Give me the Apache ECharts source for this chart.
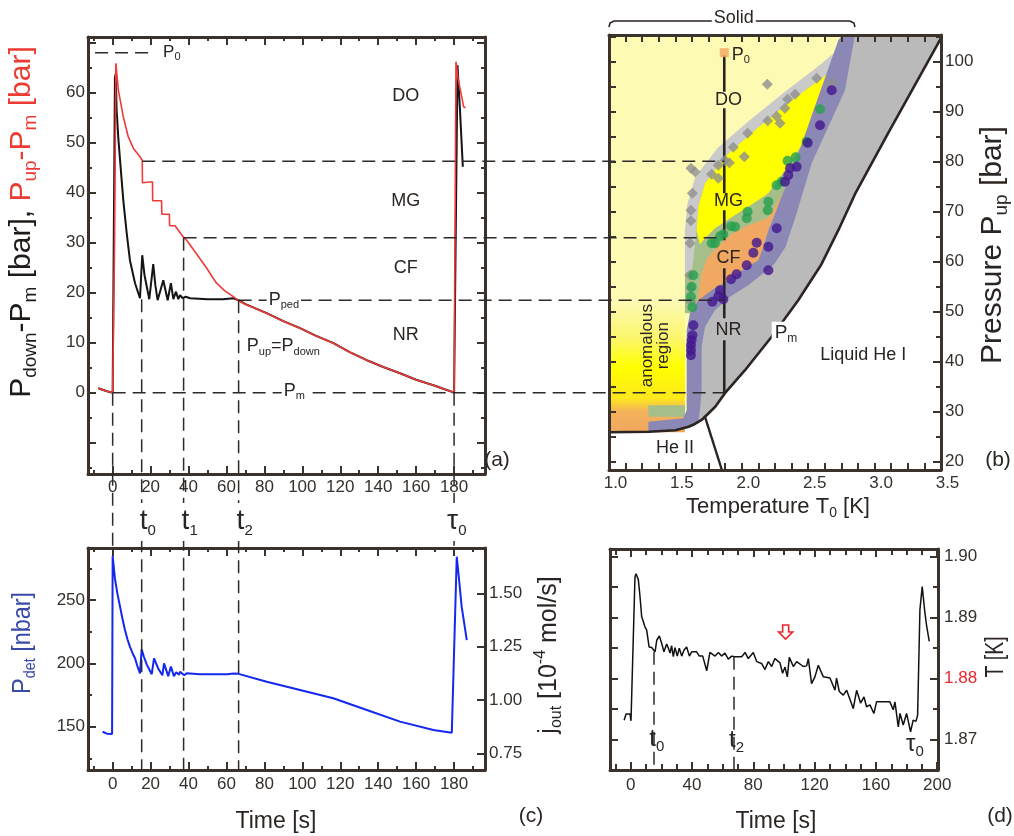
<!DOCTYPE html>
<html><head><meta charset="utf-8">
<script src="https://cdn.jsdelivr.net/npm/echarts@6/dist/echarts.min.js"></script>
<style>html,body{margin:0;padding:0;background:#fff}#c{width:1014px;height:836px}</style>
</head><body><div id="c"></div><script>
// ---------------- DATA ----------------
// Panel (a): pressures vs time [s, bar]
const redCurve = [[-7.6,0.9],[-3,0.3],[0,0.05],[0.3,0],[1.0,30],[1.7,65.9],[3.0,60.5],[5.6,55.2],[8.2,51.2],[10.9,48.9],[14.4,47.2],[15.6,46.5],[15.7,42.0],[21.0,42.2],[21.1,38.4],[25.8,38.4],[25.9,35.7],[29.9,35.7],[30.0,33.4],[32.9,33.4],[37.3,31.1],[39,30.5],[44,27.9],[49.6,24.9],[53,22.9],[54.8,21.9],[59,20.4],[63.6,19.2],[66.3,18.4],[70,17.7],[81.2,15.9],[90,14.3],[98.8,12.9],[107,11.4],[116.4,9.9],[125,8.1],[134,6.5],[143,5.1],[151.5,3.9],[160,2.6],[169.1,1.5],[175,0.7],[178.8,0.2],[180,0],[181,66.2],[182,63],[184,59.2],[185,57.2],[186,57.0]];
const blackCurve = [[-7.6,0.9],[-3,0.3],[0,0],[0.5,0],[1.2,62.9],[1.6,63.8],[2.1,56.5],[3.0,50.8],[3.9,46.5],[5.6,38.5],[7.4,31.9],[9.1,26.5],[11.8,21.9],[14.4,18.9],[15.6,27.5],[16.8,23.5],[19.3,18.7],[21.4,25.7],[22.5,21.5],[23.7,18.5],[26.7,22.5],[29,18.5],[30.7,21.9],[32,18.7],[33.4,20.2],[34.6,18.7],[35.5,19.5],[37,18.9],[38.5,19.2],[40.8,18.9],[50,18.7],[58.3,18.7],[63.6,18.9],[66.3,18.5],[70,17.7],[81.2,15.9],[90,14.3],[98.8,12.9],[107,11.4],[116.4,9.9],[125,8.1],[134,6.5],[143,5.1],[151.5,3.9],[160,2.6],[169.1,1.5],[175,0.7],[178.8,0.2],[180,0],[180.4,0],[181.8,65.5],[183.2,55.9],[184.6,45.2]];
const levelsA = [46.3, 31.0, 18.5, 0];
const levelStartT = [15.6, 37.4, 66.4, 0];
const markT = [0, 15.3, 37.4, 66.4, 180];
const markStartP = [0, 18.7, 31.0, 18.5, 0];
const markToCBottom = [false, true, true, true, false];
const markNames = [null, ['t','0'], ['t','1'], ['t','2'], ['τ','0']];
const regionNamesA = ['DO','MG','CF','NR'];
const regionPA = [59.3, 38.2, 24.9, 11.5];

// Panel (b): phase diagram [K, bar]
const meltT = [1.0,1.3,1.5,1.6,1.65,1.7,1.8,1.873,2.024,2.225,2.425,2.6,2.727,2.852,3.1,3.5];
const meltP = [25.9,26.0,26.3,27.0,27.6,28.4,31.0,33.7,38.3,45.0,52.3,59.5,66.3,73.5,85.6,104.7];
const lambdaLine = [[1.72,29.2],[1.85,18.34]];
const purpleBand = [[1.296,26.0],[1.296,28.0],[1.56,28.7],[1.585,30.3],[1.585,46.3],[1.61,49.7],[1.673,52.3],[1.773,54.3],[1.899,56.3],[2.024,58.7],[2.125,60.3],[2.162,63.0],[2.2,66.3],[2.3,73.0],[2.4,79.7],[2.576,93.0],[2.727,104.3],[2.757,105.34],[2.852,105.34],[2.777,94.3],[2.526,79.7],[2.413,69.7],[2.33,63.0],[2.25,59.7],[2.175,58.0],[2.049,55.3],[1.911,53.0],[1.798,50.3],[1.723,47.0],[1.698,43.0],[1.698,34.3],[1.685,30.3],[1.673,28.1],[1.6,27.0],[1.5,26.3],[1.3,26.0]];
const grayRegion = [[2.8,105.34],[3.5,105.34],[3.5,104.7],[3.1,85.6],[2.852,73.5],[2.727,66.3],[2.6,59.5],[2.425,52.3],[2.225,45],[2.024,38.3],[1.873,33.7],[1.8,31],[1.7,28.4],[1.65,27.6],[1.65,45],[1.75,50],[2.0,55],[2.2,59],[2.35,68],[2.6,88],[2.8,105.34]];
const doBand = [[2.73,102.5],[2.60,99.6],[2.33,94.1],[2.05,88.1],[1.82,82.8],[1.65,77.0],[1.59,71.5],[1.572,66.3],[1.572,50.3],[1.7,50.3],[2.3,72],[2.6,93],[2.72,100.5]];
const greenBand = [[2.70,100.5],[2.576,93.0],[2.4,79.7],[2.3,73.0],[2.2,66.3],[2.162,63.0],[2.125,60.3],[2.024,58.7],[1.899,56.3],[1.773,54.3],[1.673,52.3],[1.61,49.7],[1.572,49.7],[1.572,57.7],[1.627,58.5],[1.66,66.3],[1.673,71],[1.723,75.7],[1.873,81],[2.099,86.3],[2.376,92.3],[2.652,97.7]];
const mgRegion = [[2.652,97.7],[2.376,92.3],[2.099,86.3],[1.873,81.0],[1.723,75.7],[1.673,71.0],[1.66,66.3],[1.685,63.5],[1.723,64.7],[1.798,66.7],[1.911,68.7],[2.049,71.0],[2.2,73.7],[2.325,78.3],[2.476,84.3],[2.576,91.0]];
const cfRegion = [[2.338,75.0],[2.2,68.8],[2.04,67.2],[1.92,65.5],[1.80,62.5],[1.735,60.5],[1.698,57.7],[1.678,54.3],[1.66,51.0],[1.773,53.8],[1.899,55.8],[2.024,58.2],[2.125,59.8],[2.162,63.0],[2.2,66.3],[2.3,73.0]];
const anomalousRect = [[1.0,25.9],[1.572,25.9],[1.572,52],[1.0,52]];
const greenRect = [[1.296,29.0],[1.572,29.0],[1.572,31.3],[1.296,31.3]];
const grayDiamonds = [[2.192,95.5],[2.564,96.7],[2.677,95.7],[2.401,93.5],[2.345,92.5],[2.325,90.7],[2.262,89.1],[2.288,87.7],[2.195,88.2],[2.044,85.7],[1.936,82.9],[2.019,81.0],[1.873,80.3],[1.906,79.8],[1.823,79.3],[1.617,78.7],[1.648,78.0],[1.773,77.5],[1.823,76.7],[1.628,73.7],[1.617,70.3],[1.617,68.2],[1.610,63.7],[1.610,57.3],[1.617,54.7],[1.617,52.0]];
const greenDots = [[2.589,90.5],[2.488,84.0],[2.406,80.9],[2.345,80.2],[2.300,76.0],[2.262,75.3],[2.200,72.0],[2.195,70.3],[2.044,70.0],[2.037,68.7],[1.949,67.0],[1.919,67.1],[1.836,65.1],[1.861,65.5],[1.798,63.7],[1.773,63.7],[1.635,57.3],[1.622,55.0],[1.617,53.0],[1.628,50.9]];
const purpleDots = [[2.677,94.3],[2.589,87.3],[2.496,83.8],[2.413,79.0],[2.363,78.7],[2.350,77.3],[2.325,76.0],[2.263,66.7],[2.112,63.8],[2.200,63.0],[2.087,61.8],[2.037,59.3],[2.200,58.3],[1.961,57.5],[1.919,56.5],[1.836,54.3],[1.823,53.1],[1.861,52.5],[1.778,52.0],[1.635,47.3],[1.628,45.3],[1.622,44.3],[1.617,43.3],[1.617,42.3],[1.617,41.3]];
const T0 = 1.868, P0b = 101.8;
const t0Segments = [[101.3,94],[90.7,73.7],[70.3,64.3],[58.7,48.7],[44.3,33.7]];
const regionNamesB = ['DO','MG','CF','NR'];
const regionPB = [92.3, 72.0, 60.7, 46.3];

// Panel (c): detector pressure [s, nbar]
const detCurve = [[-5.3,146],[-3,144.5],[-0.3,144.2],[0,284.7],[1.2,267],[2.5,255],[3.9,244.7],[5.2,235],[6.5,226.3],[7.8,219],[9.1,213.2],[10.5,208],[11.8,204],[13,198],[14.4,192.1],[15.3,211.1],[16.5,205],[18,199],[20.6,191.4],[21.8,204],[24,196],[26.2,190.6],[27.1,200],[29.3,189.8],[30.7,197.4],[32.3,189.8],[33.5,193],[35,191],[35.5,193.4],[37.8,190.6],[39,192.1],[46,191.4],[60.3,191.4],[64,191.9],[66.4,191.7],[81.2,185.5],[98.8,179],[116.3,172.4],[134,163.2],[151.5,154],[169.1,147.4],[178.8,145.2],[179.6,145],[181.4,284.2],[182.3,271],[184,244.7],[186.7,218.4]];

// Panel (d): temperature [s, K]
const tempCurve = [[-4.3,1.8732],[-3.0,1.8742],[-0.4,1.8742],[0.2,1.8731],[2.8,1.8967],[3.5,1.8972],[5.0,1.8962],[6.1,1.8934],[6.5,1.8932],[7.2,1.8901],[7.8,1.8897],[8.7,1.8899],[9.3,1.8885],[10.4,1.8880],[12.0,1.8852],[13.7,1.8851],[14.8,1.8851],[15.9,1.8844],[17.0,1.8863],[18.7,1.8870],[20.2,1.8858],[21.7,1.8844],[23.5,1.8857],[24.6,1.8850],[25.7,1.8842],[26.7,1.8854],[27.8,1.8836],[28.9,1.8851],[30.4,1.8837],[31.7,1.8850],[33.3,1.8837],[34.8,1.8847],[36.5,1.8852],[38.3,1.8837],[39.8,1.8844],[43.0,1.8844],[44.8,1.8837],[47.0,1.8837],[49.6,1.8813],[51.7,1.8843],[55.0,1.8837],[57.2,1.8843],[59.3,1.8837],[61.5,1.8842],[63.7,1.8832],[65.9,1.8837],[68.0,1.8836],[72.4,1.8836],[74.6,1.8843],[76.7,1.8833],[80.0,1.8843],[82.2,1.8828],[83.3,1.8825],[85.4,1.8825],[87.6,1.8815],[89.8,1.8828],[92.0,1.8820],[94.1,1.8833],[97.4,1.8826],[99.1,1.8809],[100.7,1.8819],[102.2,1.8803],[103.5,1.8835],[106.1,1.8820],[108.3,1.8828],[112.6,1.8820],[114.8,1.8821],[115.9,1.8833],[118.0,1.8792],[120.2,1.8803],[122.4,1.8822],[125.7,1.8803],[130.0,1.8801],[133.3,1.8781],[134.3,1.8801],[136.1,1.8779],[138.7,1.8773],[140.9,1.8781],[145.2,1.8751],[147.4,1.8781],[150.0,1.8760],[152.2,1.8770],[153.9,1.8754],[156.1,1.8757],[158.7,1.8743],[160.4,1.8762],[164.8,1.8762],[169.1,1.8762],[171.3,1.8749],[172.4,1.8762],[174.6,1.8721],[175.7,1.8743],[177.8,1.8724],[180.0,1.8743],[182.6,1.8713],[184.3,1.8732],[186.1,1.8730],[187.2,1.8740],[188.7,1.8913],[190.2,1.8951],[192.0,1.8907],[193.0,1.8888],[194.8,1.8861]];
const dMarkT = [15.2, 67.4];
const dMarkStartT = [1.8844, 1.8836];
const arrowT = 101.1, arrowTop = 1.8888, arrowTip = 1.8865;

// ---------------- HELPERS ----------------
const FONT = "'Liberation Sans', Arial, sans-serif";
const AX = '#3b322b', LBL = '#35302b';
function range(a, b, s) { const r = []; for (let i = 0; a + i * s <= b + 1e-9; i++) r.push(+(a + i * s).toFixed(6)); return r; }
function minus(arr, rem) { return arr.filter(v => !rem.some(r => Math.abs(r - v) < 1e-9)); }
const xAxes = [], yAxes = [];
function side(dim, grid, pos, min, max, major, minor, labels, lblOpts, majLen, minLen) {
  const list = dim === 'x' ? xAxes : yAxes;
  list.push({
    type: 'value', gridIndex: grid, position: pos, min, max, z: 10,
    axisLine: { show: true, onZero: false, lineStyle: { color: AX, width: 3 } },
    axisTick: { show: major.length > 0, inside: true, length: majLen || 8, customValues: major, lineStyle: { color: AX, width: 2 } },
    axisLabel: labels ? Object.assign({ show: true, customValues: labels, color: LBL, fontSize: 17, fontFamily: FONT }, lblOpts || {}) : { show: false },
    splitLine: { show: false }
  });
  const main = list.length - 1;
  if (minor && minor.length) list.push({
    type: 'value', gridIndex: grid, position: pos, min, max, z: 10,
    axisLine: { show: false, onZero: false },
    axisTick: { show: true, inside: true, length: minLen || 4, customValues: minor, lineStyle: { color: AX, width: 2 } },
    axisLabel: { show: false }, splitLine: { show: false }
  });
  return main;
}
const grids = [
  { left: 88, top: 37, width: 397, height: 437 },
  { left: 609, top: 35, width: 332, height: 435 },
  { left: 88, top: 548, width: 397, height: 222 },
  { left: 610, top: 549, width: 328, height: 221 }
];
// panel a axes
const aXr = [-13, 196.3], aYr = [-16.26, 71.14];
const tMaj = range(0, 180, 20), tMin = range(-10, 190, 20);
const aX = side('x', 0, 'bottom', aXr[0], aXr[1], tMaj, tMin, tMaj, { margin: 5 });
side('x', 0, 'top', aXr[0], aXr[1], tMaj, tMin);
const aY = side('y', 0, 'left', aYr[0], aYr[1], range(-10, 70, 10), range(-15, 65, 10), range(0, 60, 10), { margin: 3 });
side('y', 0, 'right', aYr[0], aYr[1], range(-10, 70, 10), range(-15, 65, 10));
// panel b axes
const bXr = [1.0, 3.5], bYr = [18.34, 105.34];
const bMaj = range(1, 3.5, 0.5), bMin = minus(range(1, 3.5, 0.125), bMaj);
const bX = side('x', 1, 'bottom', bXr[0], bXr[1], bMaj, bMin, bMaj, { margin: 5, padding: [0, 0, 0, 13], formatter: v => v.toFixed(1) }, 7, 7);
side('x', 1, 'top', bXr[0], bXr[1], bMaj, bMin, null, null, 7, 7);
side('y', 1, 'left', bYr[0], bYr[1], range(20, 105, 5), [], null, null, 7);
const bY = side('y', 1, 'right', bYr[0], bYr[1], range(20, 100, 10), range(25, 105, 10), range(20, 100, 10), { margin: 4 }, 8, 5);
// panel c axes
const cXr = [-13, 196.3], cYr = [115.8, 291.05], cRr = [0.672, 1.7125];
const cX = side('x', 2, 'bottom', cXr[0], cXr[1], tMaj, tMin, tMaj, { margin: 6 });
side('x', 2, 'top', cXr[0], cXr[1], tMaj, tMin);
const cY = side('y', 2, 'left', cYr[0], cYr[1], [150, 200, 250], [125, 175, 225, 275], [150, 200, 250], { margin: 3 });
const cR = side('y', 2, 'right', cRr[0], cRr[1], [0.75, 1.0, 1.25, 1.5], [], [0.75, 1.0, 1.25, 1.5], { margin: 4, formatter: v => v.toFixed(2) });
// panel d axes
const dXr = [-13.5, 200.5], dYr = [1.86503, 1.90126];
const dMaj = range(0, 200, 40), dMin = minus(range(-10, 200, 10), dMaj);
const dX = side('x', 3, 'bottom', dXr[0], dXr[1], dMaj, dMin, dMaj, { margin: 7 }, 8, 6);
side('x', 3, 'top', dXr[0], dXr[1], dMaj, dMin, null, null, 8, 6);
side('y', 3, 'left', dYr[0], dYr[1], range(1.865, 1.9, 0.005), [], null, null, 8);
const dY = side('y', 3, 'right', dYr[0], dYr[1], [1.87, 1.88, 1.89, 1.90], [1.865, 1.875, 1.885, 1.895], [1.87, 1.88, 1.89, 1.90],
  { margin: 6, formatter: v => v.toFixed(2), color: v => (Math.abs(v - 1.88) < 1e-6 ? '#e8282d' : LBL) }, 8, 5);

function poly(points, fill, xi, yi) {
  return {
    type: 'custom', xAxisIndex: xi, yAxisIndex: yi, silent: true, clip: false,
    data: [[points[0][0], points[0][1]]], encode: { x: 0, y: 1 },
    renderItem: (params, api) => ({ type: 'polygon', shape: { points: points.map(p => api.coord(p)) }, style: { fill: fill } })
  };
}
function lineS(data, color, width, xi, yi, z) {
  return { type: 'line', xAxisIndex: xi, yAxisIndex: yi, data, showSymbol: false, symbol: 'none', silent: true, animation: false,
    lineStyle: { color, width }, z: z || 3 };
}
const anomGrad = new echarts.graphic.LinearGradient(0, 0, 0, 1, [
  { offset: 0, color: '#fdfab4' }, { offset: 0.28, color: '#fcf66c' }, { offset: 0.5, color: '#ffff00' },
  { offset: 0.74, color: '#fde81c' }, { offset: 0.84, color: '#f3b25a' }, { offset: 1, color: '#f0a860' }]);
const lightYellow = [[1.0, 105.34], [3.5, 105.34]].concat(meltT.map((t, i) => [t, meltP[i]]).reverse());

const series = [
  lineS(blackCurve, '#141414', 2, aX, aY, 3),
  lineS(redCurve, '#f03a3a', 1.6, aX, aY, 4),
  poly(lightYellow, '#fdfab4', bX, bY),
  poly(grayRegion, '#bababa', bX, bY),
  poly(anomalousRect, anomGrad, bX, bY),
  poly(doBand, '#cacaca', bX, bY),
  poly(greenBand, '#a6bf8a', bX, bY),
  poly(mgRegion, '#ffff00', bX, bY),
  poly(cfRegion, '#f0a862', bX, bY),
  poly(greenRect, '#a6bf8a', bX, bY),
  poly(purpleBand, '#8c88b6', bX, bY),
  lineS(meltT.map((t, i) => [t, meltP[i]]), '#2b2420', 2.6, bX, bY, 5),
  lineS(lambdaLine, '#2b2420', 2.4, bX, bY, 5),
  { type: 'scatter', xAxisIndex: bX, yAxisIndex: bY, data: grayDiamonds, symbol: 'diamond', symbolSize: [11, 11], itemStyle: { color: '#8e8e8e' }, z: 6, silent: true },
  { type: 'scatter', xAxisIndex: bX, yAxisIndex: bY, data: greenDots, symbol: 'circle', symbolSize: 10, itemStyle: { color: '#27a04f' }, z: 7, silent: true },
  { type: 'scatter', xAxisIndex: bX, yAxisIndex: bY, data: purpleDots, symbol: 'circle', symbolSize: 10, itemStyle: { color: '#42168f' }, z: 8, silent: true },
  { type: 'scatter', xAxisIndex: bX, yAxisIndex: bY, data: [[T0, P0b]], symbol: 'rect', symbolSize: 9, itemStyle: { color: '#f0a862' }, z: 9, silent: true },
  lineS(detCurve, '#1428f0', 2, cX, cY, 3),
  lineS(tempCurve, '#111', 1.5, dX, dY, 3)
];
t0Segments.forEach(s => series.push(lineS([[T0, s[0]], [T0, s[1]]], '#2b2420', 2.6, bX, bY, 6)));

const chart = echarts.init(document.getElementById('c'), null, { renderer: 'canvas', width: 1014, height: 836 });
chart.setOption({
  animation: false, backgroundColor: '#fff',
  textStyle: { fontFamily: FONT },
  grid: grids, xAxis: xAxes, yAxis: yAxes, series
});

// ---------------- ANNOTATIONS ----------------
const A = { x: aX, y: aY }, B = { x: bX, y: bY }, C = { x: cX, y: cY }, D = { x: dX, y: dY };
function P(g, x, y) { return chart.convertToPixel({ xAxisIndex: g.x, yAxisIndex: g.y }, [x, y]); }
const Gs = [];
const dash = { stroke: '#2e2a27', lineWidth: 1.5, lineDash: [13, 7] };
function gline(x1, y1, x2, y2, style) { Gs.push({ type: 'line', silent: true, z: 50, shape: { x1, y1, x2, y2 }, style: Object.assign({}, style) }); }
function rich(parts, F, color, subR) {
  subR = subR || 0.62;
  let text = ''; const r = {};
  const Dd = Math.round(F * 0.12);
  parts.forEach((p, i) => {
    let s = p, k = 'n', c = color;
    if (typeof p === 'object') { s = p.t; k = p.k || 'n'; c = p.c || color; }
    const key = 'p' + i, fs = Math.round(F * subR);
    if (k === 'n') r[key] = { fontSize: F, fontFamily: FONT, fill: c, verticalAlign: 'bottom', lineHeight: Math.round(F * 1.15), padding: [0, 0, Dd, 0] };
    else if (k === 's') r[key] = { fontSize: fs, fontFamily: FONT, fill: c, verticalAlign: 'bottom', lineHeight: Math.round(fs * 1.15), padding: [0, 0, 0, 0] };
    else r[key] = { fontSize: fs, fontFamily: FONT, fill: c, verticalAlign: 'bottom', lineHeight: Math.round(fs * 1.15), padding: [0, 0, Dd + Math.round(F * 0.5), 0] };
    text += '{' + key + '|' + s + '}';
  });
  return { text, rich: r };
}
function gtext(x, y, parts, F, color, o) {
  o = o || {};
  const rr = rich(parts, F, color, o.subR);
  const align = o.align || 'center';
  const st = { text: rr.text, rich: rr.rich, fill: color, font: F + 'px ' + FONT, align, textAlign: align, verticalAlign: 'middle', textVerticalAlign: 'middle' };
  if (o.bg) { st.backgroundColor = o.bg; st.padding = o.pad || [1, 2]; }
  Gs.push({ type: 'text', x, y, rotation: o.rot || 0, scaleX: o.sx || 1, scaleY: 1, silent: true, z: o.z || 60, style: st });
}
const sub = t => ({ t, k: 's' }), sup = t => ({ t, k: 'u' });

// horizontal connectors a -> b
const xT0 = P(B, T0, 50)[0];
levelsA.forEach((lv, i) => { const p = P(A, levelStartT[i], lv); gline(p[0], p[1], xT0, p[1], dash); });
// P0 dashed line in a
{ const p1 = P(A, -9.3, 68), p2 = P(A, 19.7, 68); gline(p1[0], p1[1], p2[0], p2[1], dash); gtext(P(A, 26.6, 68)[0], p1[1], ['P', sub('0')], 17, '#2a2522', { align: 'left' }); }
// vertical connectors a -> c
const aBottom = P(A, 0, aYr[0])[1];
markT.forEach((t, i) => {
  const p = P(A, t, markStartP[i]);
  const yEnd = markToCBottom[i] ? P(C, t, cYr[0])[1] : P(C, t, cYr[1])[1];
  gline(p[0], p[1], p[0], yEnd, dash);
  if (markNames[i]) {
    const off = markNames[i][0] === 'τ' ? -8 : -3;
    gtext(p[0] + off, aBottom + 48, [markNames[i][0], sub(markNames[i][1])], 28, '#2a2522', { align: 'left', bg: '#fff', pad: [3, 1], subR: 0.55 });
  }
});
// region labels a
regionNamesA.forEach((n, i) => { const p = P(A, 154.5, regionPA[i]); gtext(p[0], p[1], [n], 18, '#2a2522'); });
{ const p = P(A, 81.2, 18.5); gtext(p[0], p[1], ['P', sub('ped')], 18, '#2a2522', { align: 'left', bg: '#fff' }); }
{ const p = P(A, 70.7, 9.2); gtext(p[0], p[1], ['P', sub('up'), '=P', sub('down')], 18, '#2a2522', { align: 'left' }); }
{ const p = P(A, 89.1, 0.3); gtext(p[0], p[1], ['P', sub('m')], 18, '#2a2522', { align: 'left', bg: '#fff' }); }
// panel b labels
regionNamesB.forEach((n, i) => { const p = P(B, 1.9, regionPB[i]); gtext(p[0], p[1], [n], 18, '#2a2522'); });
{ const p = P(B, 1.925, 101.3); gtext(p[0], p[1], ['P', sub('0')], 18, '#2a2522', { align: 'left' }); }
{ const p = P(B, 2.225, 45.6); gtext(p[0], p[1], ['P', sub('m')], 19, '#2a2522', { align: 'left', bg: '#fff', pad: [1, 3] }); }
{ const p = P(B, 2.915, 41.3); gtext(p[0], p[1], ['Liquid He I'], 18, '#2a2522'); }
{ const p = P(B, 1.497, 22.7); gtext(p[0], p[1], ['He II'], 18, '#2a2522'); }
{ const p = P(B, 1.293, 43.2); gtext(p[0], p[1], ['anomalous'], 17, '#2a2522', { rot: Math.PI / 2 }); }
{ const p = P(B, 1.41, 43.2); gtext(p[0], p[1], ['region'], 17, '#2a2522', { rot: Math.PI / 2 }); }
// Solid bracket
{ const x1 = P(B, 1.0, 100)[0], x2 = P(B, 2.852, 100)[0], xm = P(B, 1.94, 100)[0];
  Gs.push({ type: 'polyline', silent: true, z: 50, shape: { points: [[x1, 27], [x1 + 1, 23], [x1 + 5, 21], [x2 - 5, 21], [x2 - 1, 23], [x2, 27]] }, style: { stroke: '#2b2420', lineWidth: 1.6, fill: null } });
  gtext(xm, 19, ['Solid'], 18, '#2a2522', { bg: '#fff', pad: [0, 2] }); }
// panel d marks
dMarkT.forEach((t, i) => { const p1 = P(D, t, dMarkStartT[i]), p2 = P(D, t, dYr[0]); gline(p1[0], p1[1], p2[0], p2[1], dash); });
{ const p = P(D, 17, 1.86995); gtext(p[0], p[1], ['t', sub('0')], 24, '#2a2522', { subR: 0.62 }); }
{ const p = P(D, 69.1, 1.86967); gtext(p[0], p[1], ['t', sub('2')], 24, '#2a2522', { subR: 0.62 }); }
{ const p = P(D, 185.5, 1.86913); gtext(p[0], p[1], ['τ', sub('0')], 24, '#2a2522', { subR: 0.62 }); }
{ const top = P(D, arrowT, arrowTop), tip = P(D, arrowT, arrowTip); const h = tip[1] - top[1], cx = top[0], y0 = top[1];
  Gs.push({ type: 'polygon', silent: true, z: 55, shape: { points: [[cx - 3, y0], [cx + 3, y0], [cx + 3, y0 + h * 0.5], [cx + 7, y0 + h * 0.5], [cx, y0 + h], [cx - 7, y0 + h * 0.5], [cx - 3, y0 + h * 0.5]] }, style: { fill: '#fff', stroke: '#e8282d', lineWidth: 1.6 } }); }
// axis names
gtext(23, 222, ['P', sub('down'), '-P', sub('m'), ' [bar], ', { t: 'P', c: '#ec3b32' }, { t: 'up', k: 's', c: '#ec3b32' }, { t: '-P', c: '#ec3b32' }, { t: 'm', k: 's', c: '#ec3b32' }, { t: ' [bar]', c: '#ec3b32' }], 30, '#1e1a18', { rot: Math.PI / 2, sx: 1.0 });
gtext(994, 245, ['Pressure P', sub('up'), ' [bar]'], 30, '#2a2522', { rot: Math.PI / 2, sx: 1.0 });
gtext(778, 508, ['Temperature T', sub('0'), ' [K]'], 22, '#2a2522');
gtext(24, 643, ['P', sub('det'), ' [nbar]'], 26, '#3a4aa8', { rot: Math.PI / 2, sx: 0.9 });
gtext(550, 655, ['j', sub('out'), ' [10', sup('-4'), ' mol/s]'], 25, '#2a2522', { rot: Math.PI / 2, sx: 1.0 });
gtext(997, 657, ['T [K]'], 26, '#2a2522', { rot: Math.PI / 2, sx: 0.75 });
gtext(276, 823, ['Time [s]'], 23, '#2a2522');
gtext(776, 823, ['Time [s]'], 23, '#2a2522');
gtext(497, 462, ['(a)'], 21, '#2a2522');
gtext(998, 462, ['(b)'], 21, '#2a2522');
gtext(531, 818, ['(c)'], 21, '#2a2522');
gtext(1000, 818, ['(d)'], 21, '#2a2522');

chart.setOption({ graphic: { elements: Gs } });
</script></body></html>
